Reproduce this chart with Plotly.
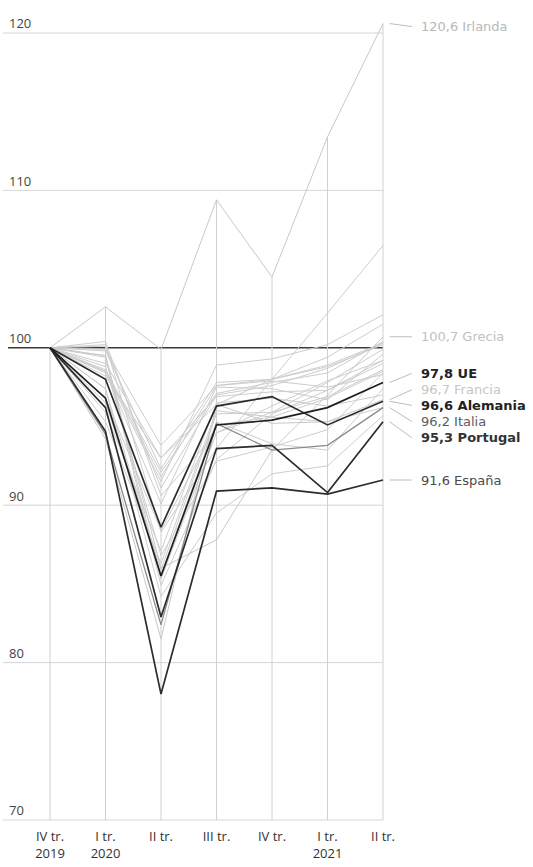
import plotly.graph_objects as go

# ---------------- data ----------------
quarters = ["IV tr.<br>2019", "I tr.<br>2020", "II tr.", "III tr.", "IV tr.", "I tr.<br>2021", "II tr."]
y_ticks = [70, 80, 90, 100, 110, 120]

# labelled series (index, IV tr. 2019 = 100)
ue = [100, 96.8, 85.5, 95.1, 95.4, 96.2, 97.8]
alemania = [100, 98.0, 88.6, 96.3, 96.9, 95.1, 96.6]
portugal = [100, 96.2, 82.9, 93.6, 93.8, 90.8, 95.3]
espana = [100, 94.7, 78.0, 90.9, 91.1, 90.7, 91.6]
italia = [100, 94.5, 82.4, 95.2, 93.5, 93.8, 96.2]
francia = [100, 94.2, 81.5, 96.4, 95.2, 95.3, 96.7]
grecia = [100, 99.5, 86.0, 87.8, 93.5, 97.0, 100.7]
irlanda = [100, 102.6, 99.9, 109.4, 104.5, 113.4, 120.6]

# unlabelled EU countries
lituania = [100, 99.9, 93.8, 97.6, 98.0, 99.4, 101.5]
finlandia = [100, 99.0, 93.0, 96.9, 97.2, 97.3, 99.2]
polonia = [100, 100.1, 91.1, 97.0, 97.6, 98.7, 100.3]
letonia = [100, 98.5, 91.8, 97.6, 97.9, 97.5, 98.3]
suecia = [100, 99.8, 92.3, 97.8, 98.0, 98.8, 100.2]
dinamarca = [100, 98.6, 92.1, 97.1, 97.8, 98.4, 100.4]
estonia = [100, 98.2, 93.0, 96.4, 98.0, 102.2, 106.5]
luxemburgo = [100, 98.4, 91.5, 98.9, 99.3, 100.2, 102.1]
paises_bajos = [100, 98.5, 90.1, 97.5, 97.4, 96.7, 99.6]
belgica = [100, 96.5, 85.9, 95.8, 95.9, 96.9, 98.6]
austria = [100, 97.4, 85.6, 95.3, 93.9, 93.5, 97.4]
hungria = [100, 99.5, 85.3, 94.6, 95.9, 97.8, 99.9]
eslovaquia = [100, 95.9, 87.1, 96.5, 96.8, 96.3, 97.0]
eslovenia = [100, 95.3, 86.3, 96.0, 95.6, 96.8, 98.5]
chequia = [100, 96.8, 88.4, 95.1, 95.6, 95.3, 96.2]
croacia = [100, 99.4, 84.9, 92.9, 95.8, 97.3, 99.0]
bulgaria = [100, 100.4, 90.6, 94.6, 96.3, 97.9, 99.2]
rumania = [100, 100.2, 88.3, 93.6, 98.0, 98.9, 100.3]
chipre = [100, 98.8, 86.8, 92.8, 93.7, 94.8, 98.4]
malta = [100, 97.4, 84.2, 89.5, 92.0, 92.5, 95.7]

others = [lituania, finlandia, polonia, letonia, suecia, dinamarca, estonia,
          luxemburgo, paises_bajos, belgica, austria, hungria, eslovaquia,
          eslovenia, chequia, croacia, bulgaria, rumania, chipre, malta]

# ---------------- styling / layout constants ----------------
FONT = "Open Sans"
LABEL_FONT = "DejaVu Sans"
W, H = 533, 867
PX_X = 55.5          # pixels per quarter
PX_Y = 15.74         # pixels per index point
X0_PX = 50           # pixel of first quarter
Y120_PX = 33         # pixel of the 120 line
B = 40
XLO = -X0_PX / PX_X
XHI = XLO + W / PX_X
YHI = 120 + Y120_PX / PX_Y
YLO = YHI - (H - B) / PX_Y

xs = list(range(len(quarters)))

fig = go.Figure()

# grey lines
for s in others:
    fig.add_trace(go.Scatter(x=xs, y=s, mode="lines",
                             line=dict(color="#cdcdcd", width=1),
                             hoverinfo="skip", showlegend=False))

# labelled series: (name, values, colour, width, label colour, bold, label shift px)
labelled = [
    ("Irlanda", irlanda, "#c8c8c8", 1, "#b8b8b8", False, -3),
    ("Grecia", grecia, "#c8c8c8", 1, "#c2c2c2", False, 0),
    ("Francia", francia, "#c8c8c8", 1, "#c6c6c6", False, 10),
    ("Italia", italia, "#8a8a8a", 1.3, "#5c5c5c", False, -14),
    ("España", espana, "#2b2b2b", 1.7, "#4a4a4a", False, 0),
    ("Portugal", portugal, "#2b2b2b", 1.7, "#333333", True, -16),
    ("Alemania", alemania, "#2b2b2b", 1.7, "#222222", True, -4),
    ("UE", ue, "#1f1f1f", 1.7, "#222222", True, 9),
]

for name, vals, col, wd, lcol, bold, shift in labelled:
    fig.add_trace(go.Scatter(x=xs, y=vals, mode="lines",
                             line=dict(color=col, width=wd),
                             hoverinfo="skip", showlegend=False))
    last = vals[-1]
    ylab = last + shift / PX_Y
    # leader line
    fig.add_shape(type="line", xref="x", yref="y",
                  x0=xs[-1] + 0.12, x1=xs[-1] + 0.52, y0=last, y1=ylab,
                  line=dict(color="#bdbdbd", width=1))
    txt = f"{last:.1f}".replace(".", ",") + " " + name
    if bold:
        txt = "<b>" + txt + "</b>"
    fig.add_annotation(x=xs[-1] + 0.66, y=ylab, xref="x", yref="y",
                       text=txt, showarrow=False, xanchor="left", yanchor="middle",
                       borderpad=0,
                       font=dict(family=LABEL_FONT, size=13, color=lcol))

# horizontal grid lines (end at last quarter)
for t in y_ticks:
    fig.add_shape(type="line", xref="x", yref="y", layer="below",
                  x0=XLO + (8 if t == 100 else 3) / PX_X, x1=xs[-1], y0=t, y1=t,
                  line=dict(color="#3a3a3a" if t == 100 else "#d6d6d6",
                            width=1.5 if t == 100 else 1))

# vertical drop lines from the highest value at each quarter
all_series = others + [v for _, v, *_ in labelled]
for i in xs:
    top = max(s[i] for s in all_series)
    fig.add_shape(type="line", xref="x", yref="y", layer="below",
                  x0=i, x1=i, y0=min(y_ticks), y1=top,
                  line=dict(color="#d0d0d0", width=1))

fig.update_layout(
    width=W, height=H,
    margin=dict(l=0, r=0, t=0, b=B),
    paper_bgcolor="white", plot_bgcolor="white",
    font=dict(family=FONT, size=13, color="#333333"),
    showlegend=False,
    xaxis=dict(range=[XLO, XHI], tickvals=xs, ticktext=quarters,
               showgrid=False, zeroline=False, showline=False, ticks="",
               tickfont=dict(family=FONT, size=13, color="#333333"),
               fixedrange=True),
    yaxis=dict(range=[YLO, YHI], tickvals=y_ticks, ticktext=[str(t) for t in y_ticks],
               ticklabelposition="inside top", ticklabelstandoff=6,
               showgrid=False, zeroline=False, showline=False, ticks="",
               tickfont=dict(family=FONT, size=13, color="#444444"),
               fixedrange=True),
)

fig.write_html("out.html", config={"displayModeBar": False},
               post_script="document.body.style.margin='0';")
